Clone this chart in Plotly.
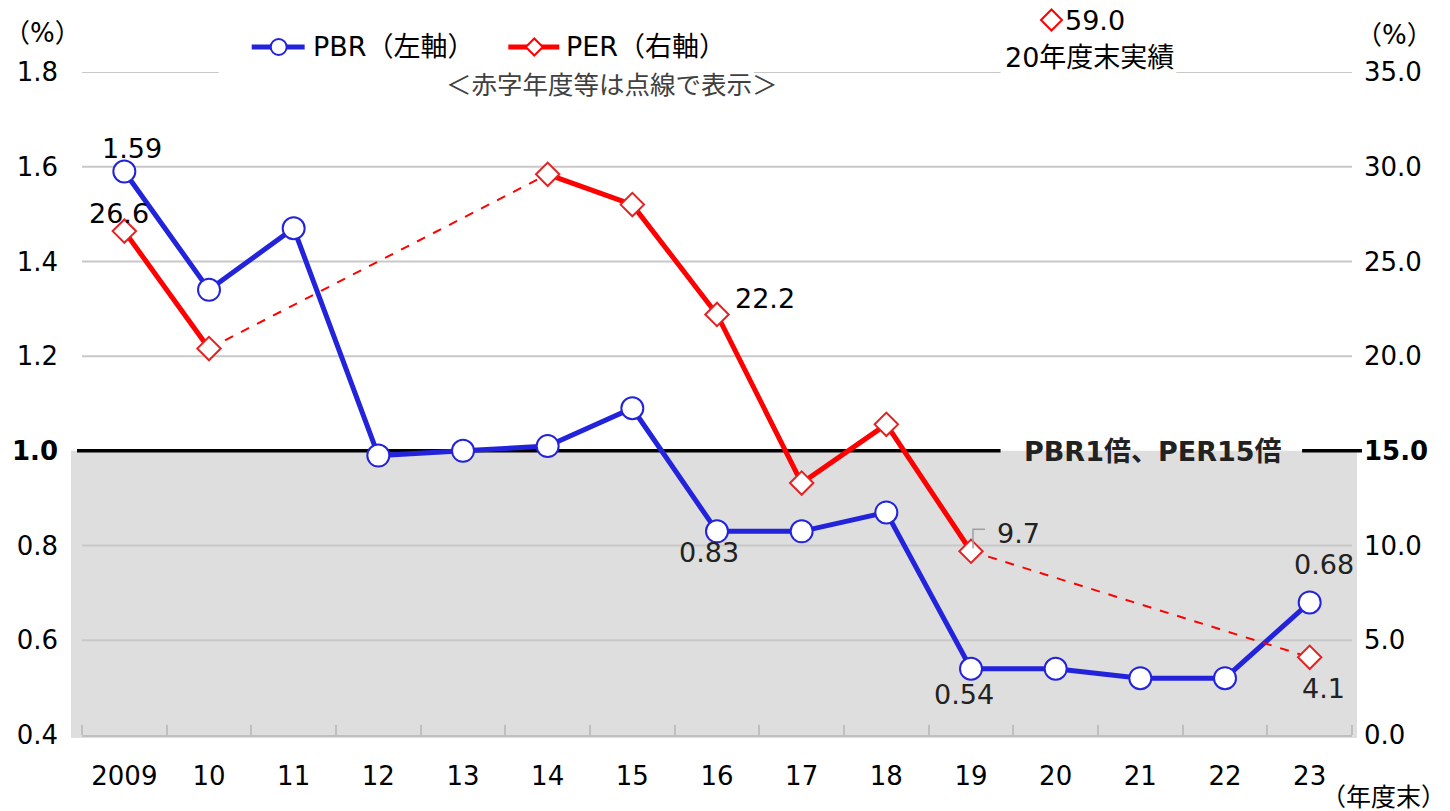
import plotly.graph_objects as go

# ---- data -------------------------------------------------------------
years = ["2009", "10", "11", "12", "13", "14", "15", "16", "17", "18",
         "19", "20", "21", "22", "23"]
pbr = [1.59, 1.34, 1.47, 0.99, 1.00, 1.01, 1.09, 0.83, 0.83, 0.87,
       0.54, 0.54, 0.52, 0.52, 0.68]
# PER: None = loss-making year (not plotted); FY2020 is off the scale
per = [26.6, 20.4, None, None, None, 29.6, 28.0, 22.2, 13.3, 16.4,
       9.7, None, None, None, 4.1]
per_fy2020 = 59.0

left_ticks = [0.4, 0.6, 0.8, 1.0, 1.2, 1.4, 1.6, 1.8]
right_ticks = [0.0, 5.0, 10.0, 15.0, 20.0, 25.0, 30.0, 35.0]

# ---- geometry helpers ---------------------------------------------------
W, H = 1450, 811
ML, MR, MT, MB = 80, 98, 72, 76
PW, PH = W - ML - MR, H - MT - MB


def px(x):
    return (x - ML) / PW


def py(y):
    return (H - MB - y) / PH


FONT = "DejaVu Sans, Noto Sans CJK JP, sans-serif"
BLUE = "#2323DC"
RED = "#FF0000"
RED_EDGE = "#E32222"
GRID = "#C8C8C8"
TICK_SIZE = 26
LABEL_SIZE = 27

idx = list(range(len(years)))

# dashed connectors across loss-making gaps
dash_x, dash_y = [], []
valid = [i for i, v in enumerate(per) if v is not None]
for a, b in zip(valid[:-1], valid[1:]):
    if b - a > 1:
        if dash_x:
            dash_x.append(None)
            dash_y.append(None)
        dash_x += [a, b]
        dash_y += [per[a], per[b]]

fig = go.Figure()

fig.add_trace(go.Scatter(
    x=dash_x, y=dash_y, yaxis="y2", mode="lines",
    line=dict(color=RED, width=2, dash="dash"),
    showlegend=False, hoverinfo="skip"))

fig.add_trace(go.Scatter(
    x=idx, y=per, yaxis="y2", mode="lines+markers", name="PER（右軸）",
    line=dict(color=RED, width=5),
    marker=dict(symbol="diamond", size=18, color="white",
                line=dict(color=RED_EDGE, width=2)),
    connectgaps=False, showlegend=False))

fig.add_trace(go.Scatter(
    x=idx, y=pbr, yaxis="y", mode="lines+markers", name="PBR（左軸）",
    line=dict(color=BLUE, width=5),
    marker=dict(symbol="circle", size=22, color="white",
                line=dict(color=BLUE, width=2)),
    showlegend=False))

# ---- shapes -------------------------------------------------------------
shapes = [
    # shaded zone below PBR 1x / PER 15x
    dict(type="rect", xref="paper", yref="paper",
         x0=px(69), x1=px(1357), y0=py(738), y1=(1.0 - 0.4) / 1.4,
         fillcolor="#DEDEDE", line_width=0, layer="below"),
]
# horizontal gridlines (top one interrupted by the legend and the note)
for v in left_ticks:
    if v in (0.4, 1.0):
        continue
    segs = [(80, 217), (753, 1000), (1176, 1352)] if v == 1.8 else [(80, 1352)]
    for x0, x1 in segs:
        shapes.append(dict(type="line", xref="paper", yref="y",
                           x0=px(x0), x1=px(x1), y0=v, y1=v,
                           line=dict(color=GRID, width=2), layer="below"))
# reference line at 1.0 / 15.0, broken by its caption
for x0, x1 in [(75, 1000), (1302, 1362)]:
    shapes.append(dict(type="line", xref="paper", yref="y",
                       x0=px(x0), x1=px(x1), y0=1.0, y1=1.0,
                       line=dict(color="black", width=3.5), layer="below"))
# leader for the FY2019 PER label
shapes.append(dict(type="path", xref="x", yref="y2",
                   xsizemode="pixel", ysizemode="pixel",
                   xanchor=10, yanchor=per[10],
                   path="M 2,3 L 2,22 L 14,22",
                   line=dict(color="#A0A0A0", width=1.5), layer="above"))


def diamond(cx, cy, r, color):
    return dict(type="path", xref="paper", yref="paper",
                path=f"M {px(cx - r)},{py(cy)} L {px(cx)},{py(cy - r)} "
                     f"L {px(cx + r)},{py(cy)} L {px(cx)},{py(cy + r)} Z",
                line=dict(color=color, width=2), fillcolor="white")


# legend keys
LEG_Y = 47
shapes += [
    dict(type="line", xref="paper", yref="paper", x0=px(250), x1=px(303),
         y0=py(LEG_Y), y1=py(LEG_Y), line=dict(color=BLUE, width=5)),
    dict(type="circle", xref="paper", yref="paper",
         x0=px(269), x1=px(285), y0=py(LEG_Y + 8), y1=py(LEG_Y - 8),
         line=dict(color=BLUE, width=2), fillcolor="white"),
    dict(type="line", xref="paper", yref="paper", x0=px(507), x1=px(558),
         y0=py(LEG_Y), y1=py(LEG_Y), line=dict(color=RED, width=5)),
    diamond(533, LEG_Y, 8.5, RED),
    # marker for the off-scale FY2020 PER
    diamond(1051, 20, 10.5, RED),
]


# ---- annotations ----------------------------------------------------------
def lab(xi, val, axis, dx, dy, color="#222222"):
    return dict(x=xi, y=val, xref="x", yref=axis,
                text=f"{val:.2f}" if axis == "y" else f"{val:.1f}",
                showarrow=False, xshift=dx, yshift=dy,
                xanchor="center", yanchor="middle",
                font=dict(family=FONT, size=LABEL_SIZE, color=color))


def note(x, y, text, size=26, color="black", **kw):
    d = dict(x=px(x), y=py(y), xref="paper", yref="paper", text=text,
             showarrow=False, xanchor="center", yanchor="middle",
             font=dict(family=FONT, size=size, color=color))
    d.update(kw)
    return d


annotations = [
    lab(0, pbr[0], "y", 8, 23, "black"),
    lab(0, per[0], "y2", -5, 18, "black"),
    lab(7, per[7], "y2", 48, 16, "black"),
    lab(7, pbr[7], "y", -8, -21),
    lab(10, per[10], "y2", 47, 18),
    lab(10, pbr[10], "y", -7, -26),
    lab(14, pbr[14], "y", 14, 38),
    lab(14, per[14], "y2", 14, -31),
    note(1063, 20, f"{per_fy2020:.1f}", size=LABEL_SIZE, xanchor="left"),
    note(1089, 57, "20年度末実績", size=27, bgcolor="white", borderpad=0),
    note(309, LEG_Y, "PBR（左軸）", size=27, xanchor="left"),
    note(563, LEG_Y, "PER（右軸）", size=27, xanchor="left"),
    note(611, 85, "＜赤字年度等は点線で表示＞", size=25.5, color="#404040"),
    note(1153, 451, "<b>PBR1倍、PER15倍</b>", size=27, color="#222222"),
    note(40, 33, "（%）"),
    note(1395, 35, "（%）"),
    note(1448, 797, "（年度末）", size=25, xanchor="right"),
]


def bold_if(v, ref, fmt):
    s = fmt.format(v)
    return f"<b>{s}</b>" if abs(v - ref) < 1e-9 else s


fig.update_layout(
    width=W, height=H,
    margin=dict(l=ML, r=MR, t=MT, b=MB),
    paper_bgcolor="white", plot_bgcolor="rgba(0,0,0,0)",
    font=dict(family=FONT, size=TICK_SIZE, color="black"),
    showlegend=False,
    xaxis=dict(range=[-0.5, len(years) - 0.5], tickvals=idx, ticktext=years,
               showgrid=False, showline=True, linecolor="#BFBFBF",
               linewidth=2, ticks="", ticklabelstandoff=17,
               minor=dict(tickvals=[i - 0.5 for i in idx] + [len(years) - 0.5],
                          ticks="inside", ticklen=10, tickcolor="#BFBFBF",
                          tickwidth=2, showgrid=False),
               tickfont=dict(family=FONT, size=TICK_SIZE, color="black"),
               zeroline=False),
    yaxis=dict(range=[0.4, 1.8], tickvals=left_ticks,
               ticktext=[bold_if(v, 1.0, "{:.1f}") for v in left_ticks],
               showgrid=False, zeroline=False, ticks="",
               ticklabelstandoff=23,
               tickfont=dict(family=FONT, size=TICK_SIZE, color="black")),
    yaxis2=dict(range=[0, 35], tickvals=right_ticks,
                ticktext=[bold_if(v, 15.0, "{:.1f}") for v in right_ticks],
                overlaying="y", side="right", showgrid=False, zeroline=False,
                ticks="", ticklabelstandoff=11,
                tickfont=dict(family=FONT, size=TICK_SIZE, color="black")),
    shapes=shapes,
    annotations=annotations,
)

fig.write_html("out.html")
